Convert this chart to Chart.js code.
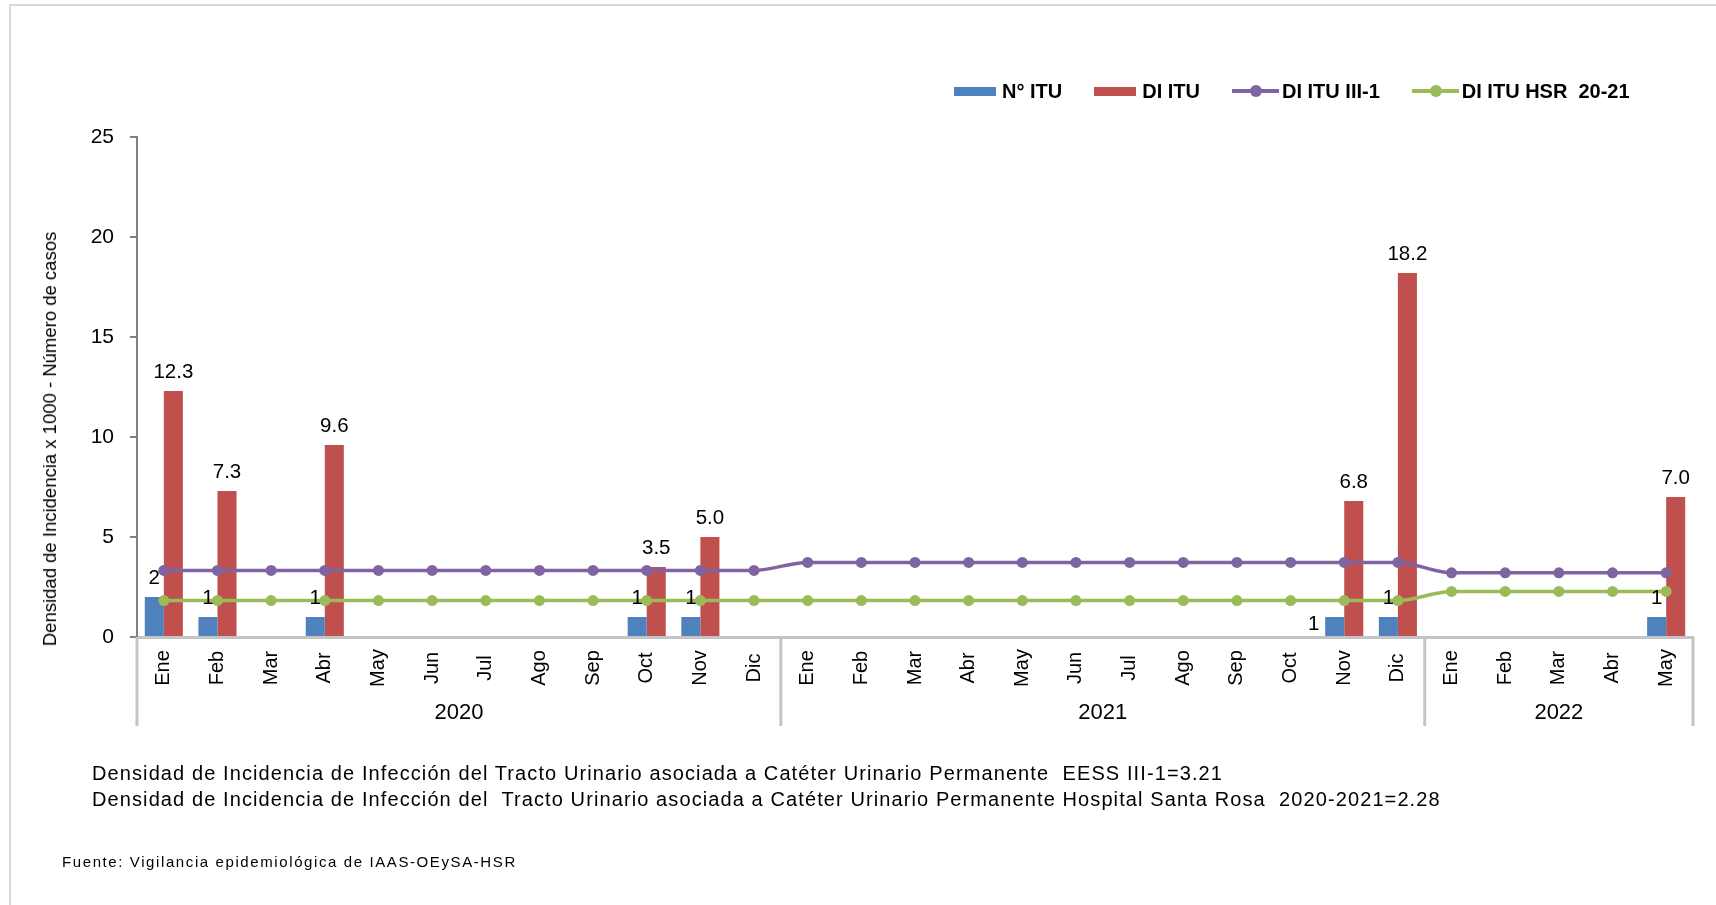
<!DOCTYPE html>
<html>
<head>
<meta charset="utf-8">
<script src="https://cdn.jsdelivr.net/npm/chart.js@4"></script>
<style>
  html,body{margin:0;padding:0;background:#fff;}
  body{width:1716px;height:905px;position:relative;overflow:hidden;font-family:"Liberation Sans",Arial,sans-serif;color:#000;}
  #frame{position:absolute;left:9px;top:4px;width:1720px;height:920px;border-left:2px solid #d9d9d9;border-top:2px solid #d9d9d9;}
  #wrap{position:absolute;left:0;top:0;width:1716px;height:905px;}
  #legend{position:absolute;left:954px;top:80px;height:22px;display:flex;align-items:center;font-weight:bold;font-size:20px;}
  .lg-item{display:flex;align-items:center;margin-right:32px;white-space:pre;}
  .lg-box{width:42px;height:9px;margin-right:6px;}
  .lg-line{position:relative;width:47px;height:4px;margin-right:3px;}
  .lg-line i{position:absolute;left:18px;top:-4px;width:12px;height:12px;border-radius:50%;}
  #ytitle{position:absolute;left:50px;top:439px;transform:translate(-50%,-50%) rotate(-90deg);white-space:nowrap;font-size:18.5px;}
  .foot{position:absolute;left:92px;font-size:20px;letter-spacing:1.1px;white-space:pre;line-height:1;}
  #fuente{position:absolute;left:62px;top:853px;font-size:15px;letter-spacing:1.6px;white-space:pre;}
</style>
</head>
<body>
<div id="frame"></div>
<div id="wrap"><canvas id="chart" width="1716" height="905"></canvas></div>
<div id="legend"></div>
<div id="ytitle">Densidad de Incidencia x 1000 - Número de casos</div>
<div class="foot" style="top:763px">Densidad de Incidencia de Infección del Tracto Urinario asociada a Catéter Urinario Permanente  EESS III-1=3.21</div>
<div class="foot" style="top:789px">Densidad de Incidencia de Infección del  Tracto Urinario asociada a Catéter Urinario Permanente Hospital Santa Rosa  2020-2021=2.28</div>
<div id="fuente">Fuente: Vigilancia epidemiológica de IAAS-OEySA-HSR</div>
<script>
// ── datos ────────────────────────────────────────────────
const meses = ['Ene','Feb','Mar','Abr','May','Jun','Jul','Ago','Sep','Oct','Nov','Dic',
               'Ene','Feb','Mar','Abr','May','Jun','Jul','Ago','Sep','Oct','Nov','Dic',
               'Ene','Feb','Mar','Abr','May'];
const anios = ['2020','2021','2022'];
const mesesPorAnio = [12, 12, 5];

const nITU  = [2,1,0,1,0,0,0,0,0,1,1,0,  0,0,0,0,0,0,0,0,0,0,1,1,  0,0,0,0,1];
const diITU = [12.3,7.3,0,9.6,0,0,0,0,0,3.5,5.0,0,  0,0,0,0,0,0,0,0,0,0,6.8,18.2,  0,0,0,0,7.0];
const diIII = [3.33,3.33,3.33,3.33,3.33,3.33,3.33,3.33,3.33,3.33,3.33,3.33,
               3.73,3.73,3.73,3.73,3.73,3.73,3.73,3.73,3.73,3.73,3.73,3.73,
               3.21,3.21,3.21,3.21,3.21];
const diHSR = [1.82,1.82,1.82,1.82,1.82,1.82,1.82,1.82,1.82,1.82,1.82,1.82,
               1.82,1.82,1.82,1.82,1.82,1.82,1.82,1.82,1.82,1.82,1.82,1.82,
               2.28,2.28,2.28,2.28,2.28];
const yTicks = [0,5,10,15,20,25];

const C_AZUL = '#4F81BD', C_ROJO = '#C0504D', C_MORADO = '#8064A2', C_VERDE = '#9BBB59';
const FONT = '"Liberation Sans", Arial, sans-serif';

// leyenda (html)
const leyenda = [
  {txt:'N° ITU', color:C_AZUL, tipo:'box'},
  {txt:'DI ITU', color:C_ROJO, tipo:'box'},
  {txt:'DI ITU III-1', color:C_MORADO, tipo:'line'},
  {txt:'DI ITU HSR  20-21', color:C_VERDE, tipo:'line'}
];
document.getElementById('legend').innerHTML = leyenda.map(l => l.tipo === 'box'
  ? `<div class="lg-item"><div class="lg-box" style="background:${l.color}"></div>${l.txt}</div>`
  : `<div class="lg-item"><div class="lg-line" style="background:${l.color}"><i style="background:${l.color}"></i></div>${l.txt}</div>`
).join('');

// etiquetas de datos + eje x de dos niveles
const labelShift = {22: [-21, 26]};   // el "1" de Nov 2021 va al costado
const etiquetas = {
  id: 'etiquetas',
  afterDatasetsDraw(chart) {
    const ctx = chart.ctx;
    ctx.save();
    ctx.font = '20.5px ' + FONT;
    ctx.fillStyle = '#000';
    ctx.textAlign = 'center';
    ctx.textBaseline = 'middle';
    [0, 1].forEach(di => {
      const ds = chart.data.datasets[di];
      chart.getDatasetMeta(di).data.forEach((bar, i) => {
        const v = ds.data[i];
        if (!v) return;
        const txt = di === 0 ? String(v) : v.toFixed(1);
        let dx = 0, dy = -19;
        if (di === 0 && labelShift[i]) { dx = labelShift[i][0]; dy = -19 + labelShift[i][1]; }
        ctx.fillText(txt, bar.x + dx, bar.y + dy);
      });
    });
    ctx.restore();
  },
  afterDraw(chart) {
    const ctx = chart.ctx, xs = chart.scales.x, area = chart.chartArea;
    const n = meses.length, w = (area.right - area.left) / n;
    ctx.save();
    // meses
    ctx.font = '20px ' + FONT;
    ctx.fillStyle = '#000';
    ctx.textAlign = 'center';
    ctx.textBaseline = 'middle';
    meses.forEach((m, i) => {
      ctx.save();
      ctx.translate(xs.getPixelForValue(i), area.bottom + 31);
      ctx.rotate(-Math.PI / 2);
      ctx.fillText(m, 0, 0);
      ctx.restore();
    });
    // separadores y años
    ctx.font = '22px ' + FONT;
    ctx.strokeStyle = '#c4c4c4';
    ctx.lineWidth = 3;
    let start = 0;
    const bordes = [area.left];
    anios.forEach((a, k) => {
      const end = start + mesesPorAnio[k];
      const x0 = xs.getPixelForValue(start) - w / 2;
      const x1 = xs.getPixelForValue(end - 1) + w / 2;
      bordes.push(x1);
      ctx.fillText(a, (x0 + x1) / 2, area.bottom + 76);
      start = end;
    });
    bordes.forEach(x => {
      ctx.beginPath();
      ctx.moveTo(x, area.bottom);
      ctx.lineTo(x, area.bottom + 89);
      ctx.stroke();
    });
    ctx.restore();
  }
};

new Chart(document.getElementById('chart'), {
  type: 'bar',
  data: {
    labels: meses,
    datasets: [
      {label:'N° ITU', data:nITU, backgroundColor:C_AZUL, order:2, categoryPercentage:0.71, barPercentage:1},
      {label:'DI ITU', data:diITU, backgroundColor:C_ROJO, order:2, categoryPercentage:0.71, barPercentage:1},
      {type:'line', label:'DI ITU III-1', data:diIII, borderColor:C_MORADO, backgroundColor:C_MORADO,
        borderWidth:3.5, pointRadius:5.5, pointBackgroundColor:C_MORADO, pointBorderWidth:0,
        cubicInterpolationMode:'monotone', order:1},
      {type:'line', label:'DI ITU HSR  20-21', data:diHSR, borderColor:C_VERDE, backgroundColor:C_VERDE,
        borderWidth:3.5, pointRadius:5.5, pointBackgroundColor:C_VERDE, pointBorderWidth:0,
        cubicInterpolationMode:'monotone', order:0}
    ]
  },
  options: {
    responsive: false,
    devicePixelRatio: 1,
    animation: false,
    layout: {padding: {top:137, left:0, right:23, bottom:179}},
    plugins: {legend:{display:false}, tooltip:{enabled:false}},
    scales: {
      x: {
        grid: {drawOnChartArea:false, drawTicks:false},
        border: {display:true, color:'#c4c4c4', width:3},
        ticks: {display:false},
        afterFit: s => { s.height = 89; }
      },
      y: {
        min: 0, max: 25,
        afterBuildTicks: s => { s.ticks = yTicks.map(v => ({value:v})); },
        grid: {drawOnChartArea:false, drawTicks:true, tickLength:7, color:'#808080', lineWidth:2},
        border: {display:true, color:'#808080', width:2},
        ticks: {color:'#000', font:{family:FONT, size:21}, padding:16},
        afterFit: s => { s.width = 137; }
      }
    }
  },
  plugins: [etiquetas]
});
</script>
</body>
</html>
